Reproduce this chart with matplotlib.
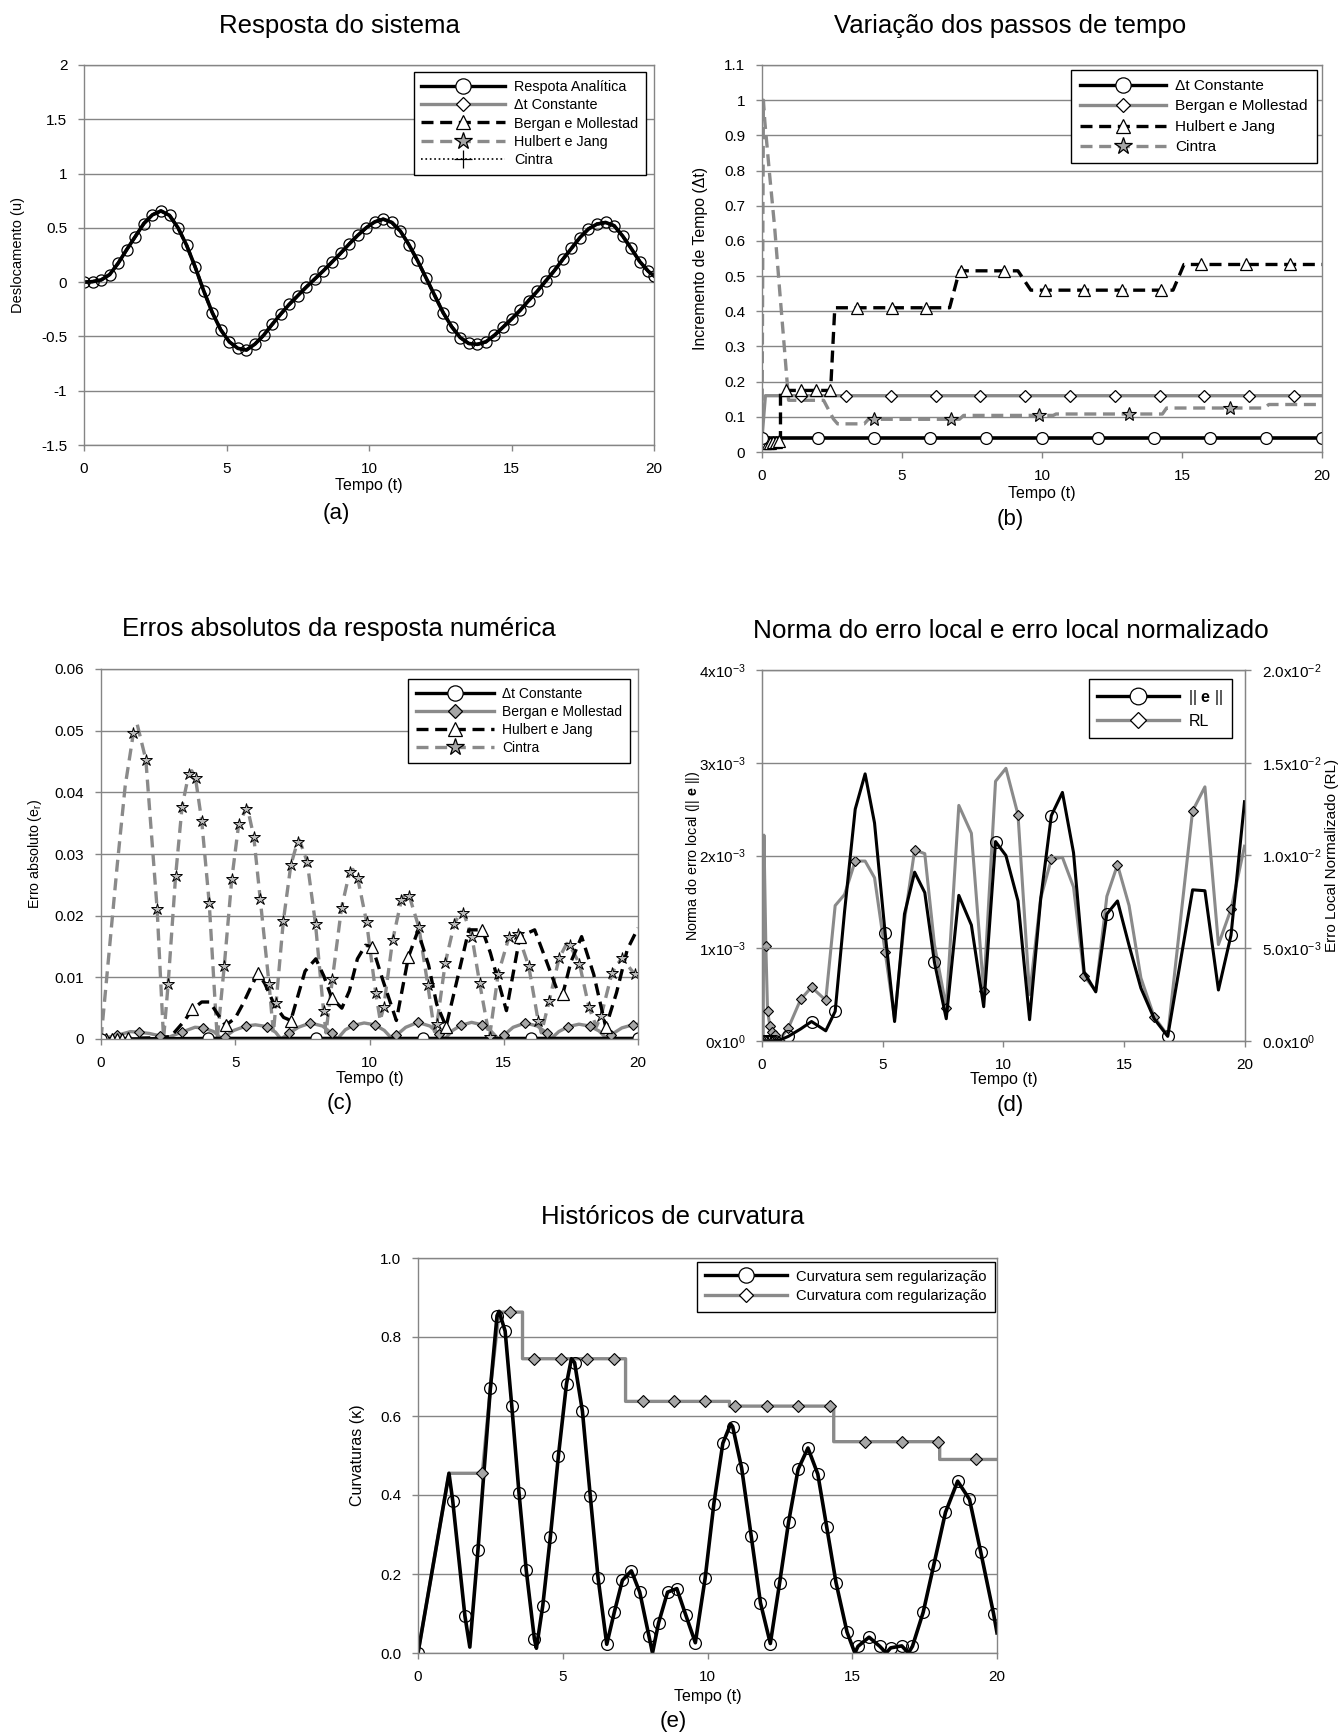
import numpy as np
import matplotlib
matplotlib.use('Agg')
import matplotlib.pyplot as plt
from matplotlib.lines import Line2D

plt.rcParams['font.family'] = ['Liberation Sans', 'DejaVu Sans']
plt.rcParams['mathtext.fontset'] = 'custom'
plt.rcParams['mathtext.rm'] = 'Liberation Sans'
plt.rcParams['mathtext.it'] = 'Liberation Sans:italic'
plt.rcParams['mathtext.bf'] = 'Liberation Sans:bold'
plt.rcParams['axes.unicode_minus'] = False

# ---------------- (a) resposta do sistema ----------------
t_a = [0.0, 0.3, 0.6, 0.9, 1.2, 1.5, 1.8, 2.1, 2.4, 2.7,
       3.0, 3.3, 3.6, 3.9, 4.2, 4.5, 4.8, 5.1, 5.4, 5.7,
       6.0, 6.3, 6.6, 6.9, 7.2, 7.5, 7.8, 8.1, 8.4, 8.7,
       9.0, 9.3, 9.6, 9.9, 10.2, 10.5, 10.8, 11.1, 11.4, 11.7,
       12.0, 12.3, 12.6, 12.9, 13.2, 13.5, 13.8, 14.1, 14.4, 14.7,
       15.0, 15.3, 15.6, 15.9, 16.2, 16.5, 16.8, 17.1, 17.4, 17.7,
       18.0, 18.3, 18.6, 18.9, 19.2, 19.5, 19.8, 20.0]
u_a = [0.0, 0.005, 0.02, 0.07, 0.175, 0.30, 0.42, 0.54, 0.62, 0.656,
       0.615, 0.50, 0.34, 0.14, -0.08, -0.28, -0.44, -0.55, -0.61, -0.625,
       -0.57, -0.49, -0.39, -0.295, -0.205, -0.125, -0.045, 0.03, 0.105, 0.185,
       0.265, 0.35, 0.43, 0.50, 0.555, 0.58, 0.55, 0.47, 0.345, 0.20,
       0.04, -0.12, -0.28, -0.41, -0.51, -0.565, -0.573, -0.55, -0.49, -0.415,
       -0.34, -0.26, -0.17, -0.085, 0.01, 0.105, 0.21, 0.31, 0.41, 0.49,
       0.535, 0.55, 0.52, 0.425, 0.31, 0.19, 0.10, 0.057]

# ---------------- (b) passos de tempo ----------------
ct_b_t = [0, 2, 4, 6, 8, 10, 12, 14, 16, 18, 20]
ct_b_dt = [0.04, 0.04, 0.04, 0.04, 0.04, 0.04, 0.04, 0.04, 0.04, 0.04, 0.04]

bm_b_t = [0.0, 0.12, 20.0]
bm_b_dt = [0.04, 0.16, 0.16]
bm_b_mt = [0.0, 1.4, 3.0, 4.6, 6.2, 7.8, 9.4, 11.0, 12.6, 14.2, 15.8, 17.4, 19.0]
bm_b_mdt = [0.04, 0.16, 0.16, 0.16, 0.16, 0.16, 0.16, 0.16, 0.16, 0.16, 0.16, 0.16, 0.16]

hj_b_t = [0.0, 0.1, 0.2, 0.3, 0.4, 0.5, 0.66, 0.66, 2.45, 2.6, 6.7, 7.05,
          9.14, 9.6, 14.68, 15.07, 20.0]
hj_b_dt = [0.035, 0.025, 0.026, 0.027, 0.028, 0.029, 0.03, 0.175, 0.175, 0.41, 0.41, 0.515,
           0.515, 0.46, 0.46, 0.533, 0.533]
hj_b_mt = [0.1, 0.2, 0.3, 0.4, 0.5, 0.6, 0.87, 1.4, 1.92, 2.42, 3.4, 4.64, 5.87,
           7.09, 8.63, 10.1, 11.5, 12.87, 14.24, 15.69, 17.27, 18.87]
hj_b_mdt = [0.025, 0.026, 0.027, 0.028, 0.029, 0.03, 0.175, 0.175, 0.175, 0.175, 0.41, 0.41, 0.41,
            0.515, 0.515, 0.46, 0.46, 0.46, 0.46, 0.533, 0.533, 0.533]

ci_b_t = [0.0, 0.05, 0.1, 0.27, 0.45, 0.63, 0.81, 0.95, 2.2, 2.55, 2.7, 3.65, 3.8,
          7.05, 7.2, 10.4, 10.5, 14.3, 14.45, 17.95, 18.1, 20.0]
ci_b_dt = [0.04, 1.0, 0.94, 0.79, 0.64, 0.46, 0.285, 0.147, 0.147, 0.094, 0.08, 0.08, 0.093,
           0.093, 0.104, 0.104, 0.108, 0.108, 0.125, 0.125, 0.135, 0.135]
ci_b_mt = [0.0, 4.0, 6.75, 9.9, 13.1, 16.7]
ci_b_mdt = [0.04, 0.093, 0.093, 0.104, 0.108, 0.125]

# ---------------- (c) erros absolutos ----------------
ct_c_t = [0, 4, 8, 12, 16, 20]
ct_c_e = [0.0, 0.0001, 0.0001, 0.0001, 0.0001, 0.0001]

bm_c_mt = [0.0, 0.6, 1.4, 2.2, 3.0, 3.8, 4.6, 5.4, 6.2, 7.0, 7.8, 8.6, 9.4,
           10.2, 11.0, 11.8, 12.6, 13.4, 14.2, 15.0, 15.8, 16.6, 17.4, 18.2, 19.0, 19.8]
bm_c_me = [0.0, 0.0006, 0.0011, 0.0005, 0.0011, 0.0018, 0.0003, 0.0021, 0.002, 0.0009, 0.0026,
           0.0009, 0.0022, 0.0023, 0.0006, 0.0027, 0.0008, 0.0022, 0.0023, 0.0006, 0.0026,
           0.001, 0.002, 0.0021, 0.0007, 0.0023]
bm_c_t = [1.1, 1.8, 2.35, 3.5, 4.2, 4.5, 4.95, 5.75, 6.5, 6.7, 7.35, 8.25, 8.8, 9.1,
          9.8, 10.55, 10.85, 11.35, 12.25, 12.8, 13.1, 13.8, 14.5, 14.8, 15.35, 16.25,
          16.75, 17.05, 17.8, 18.55, 18.85, 19.4, 20.0]
bm_c_e = [0.0012, 0.0009, 0.0, 0.0019, 0.0012, 0.0, 0.0014, 0.0023, 0.0011, 0.0, 0.0019, 0.0021,
          0.0, 0.0015, 0.0026, 0.0014, 0.0, 0.0019, 0.0021, 0.0, 0.0014, 0.0027, 0.0014, 0.0,
          0.0019, 0.0021, 0.0, 0.0012, 0.0024, 0.0013, 0.0, 0.0018, 0.0024]

hj_c_mt = [0.2, 0.4, 0.6, 0.8, 1.0, 3.4, 4.64, 5.85, 7.07, 8.6, 10.1, 11.45, 12.85,
           14.2, 15.6, 17.2, 18.8]
hj_c_me = [0.0, 0.0, 0.0, 0.0, 0.0001, 0.0048, 0.0022, 0.0107, 0.003, 0.0066, 0.015, 0.0133,
           0.002, 0.0177, 0.0166, 0.0073, 0.0019]
hj_c_t = [0.0, 2.0, 2.6, 3.1, 3.75, 4.05, 4.35, 5.0, 5.3, 5.57, 6.1, 6.45, 6.8, 7.3, 7.6,
          8.0, 8.3, 8.97, 9.25, 9.55, 9.85, 10.5, 11.0, 11.8, 12.2, 12.5, 13.15, 13.7,
          14.5, 15.1, 16.15, 16.6, 17.0, 17.5, 17.9, 18.35, 19.2, 19.6, 20.0]
hj_c_e = [0.0, 0.0002, 0.0004, 0.0029, 0.006, 0.006, 0.004, 0.0034, 0.0058, 0.0083, 0.009,
          0.0056, 0.0035, 0.0065, 0.011, 0.013, 0.0102, 0.005, 0.0078, 0.013, 0.0152, 0.0095,
          0.003, 0.0175, 0.012, 0.0057, 0.0075, 0.0177, 0.014, 0.0046, 0.0177, 0.0125, 0.0078,
          0.0125, 0.0166, 0.0105, 0.0075, 0.0145, 0.018]

ci_c_mt = [1.21, 1.67, 2.09, 2.5, 2.78, 3.02, 3.27, 3.52, 3.75, 4.03,
           4.59, 4.87, 5.13, 5.4, 5.69, 5.93, 6.26, 6.52, 6.79, 7.07,
           7.32, 7.68, 7.99, 8.29, 8.62, 8.96, 9.26, 9.56, 9.89, 10.23,
           10.53, 10.86, 11.19, 11.48, 11.84, 12.17, 12.51, 12.82, 13.16, 13.5,
           13.82, 14.1, 14.47, 14.79, 15.2, 15.52, 15.93, 16.28, 16.69, 17.06,
           17.46, 17.82, 18.17, 18.63, 19.03, 19.4, 19.87]
ci_c_me = [0.0497, 0.0453, 0.0211, 0.0089, 0.0265, 0.0377, 0.043, 0.0423, 0.0354, 0.0221,
           0.0118, 0.0259, 0.0349, 0.0373, 0.0328, 0.0227, 0.0089, 0.0058, 0.0191, 0.0282,
           0.032, 0.0287, 0.0186, 0.0045, 0.0098, 0.0213, 0.0271, 0.0261, 0.019, 0.0075,
           0.0052, 0.016, 0.0226, 0.0232, 0.0181, 0.0088, 0.0024, 0.0123, 0.0187, 0.0205,
           0.0165, 0.0091, 0.0003, 0.0105, 0.0166, 0.0171, 0.0118, 0.003, 0.0061, 0.0131,
           0.0152, 0.0122, 0.0052, 0.0038, 0.0107, 0.0132, 0.0105]
ci_c_t = [0.0, 0.3, 0.6, 0.9, 1.35, 2.33, 3.38, 4.33, 5.45, 6.42, 7.4, 8.38, 9.38,
          10.4, 11.35, 12.42, 13.4, 15.4, 16.4, 17.35, 18.45]
ci_c_e = [0.0, 0.014, 0.028, 0.041, 0.051, 0.0, 0.0435, 0.0, 0.0376, 0.001, 0.0322, 0.001,
          0.0275, 0.003, 0.0236, 0.0012, 0.0206, 0.0174, 0.001, 0.0155, 0.002]

# ---------------- (d) norma do erro local e RL ----------------
t_d = [0.0, 0.05, 0.08, 0.16, 0.23, 0.33, 0.43, 0.53, 0.63, 0.74,
       1.09, 1.6, 2.05, 2.64, 3.03, 3.42, 3.86, 4.27, 4.66, 5.1,
       5.49, 5.9, 6.32, 6.74, 7.14, 7.63, 8.15, 8.67, 9.18, 9.67,
       10.1, 10.6, 11.08, 11.54, 11.98, 12.44, 12.9, 13.34, 13.82, 14.28,
       14.72, 15.2, 15.69, 16.24, 16.8, 17.83, 18.34, 18.9, 19.42, 19.98]
norma_e = [0.0, 0.0, 0.0, 0.0, 0.0, 0.0, 0.0, 0.0, 0.0, 0.00001,
           0.00005, 0.00013, 0.00021, 0.00011, 0.00032, 0.0014, 0.0025, 0.00288, 0.00235, 0.00116,
           0.00021, 0.00137, 0.00182, 0.0016, 0.00085, 0.00024, 0.00157, 0.00125, 0.00037, 0.00215,
           0.002, 0.00151, 0.00023, 0.00153, 0.00243, 0.00268, 0.00203, 0.00074, 0.00053, 0.00137,
           0.00151, 0.00103, 0.00057, 0.00024, 0.00005, 0.00163, 0.00162, 0.00055, 0.00114, 0.00258]
rl = [0.0, 0.0, 0.0111, 0.0051, 0.0016, 0.0008, 0.0005, 0.0003, 0.0002, 0.0001,
      0.0007, 0.00224, 0.0029, 0.0022, 0.0073, 0.0079, 0.0097, 0.0097, 0.0088, 0.0048,
      0.0012, 0.0065, 0.0103, 0.0101, 0.0052, 0.0018, 0.0127, 0.0112, 0.0027, 0.014,
      0.0147, 0.0122, 0.0025, 0.0077, 0.0098, 0.0099, 0.0083, 0.0035, 0.0027, 0.0078,
      0.0095, 0.0073, 0.0034, 0.0013, 0.0003, 0.0124, 0.0137, 0.0052, 0.0071, 0.0105]
marca_e = [1, 3, 4, 5, 6, 7, 10, 12, 14, 19, 24, 29, 34, 39, 44, 48]
marca_rl = [3, 4, 5, 6, 7, 10, 11, 12, 13, 16, 19, 22, 25, 28, 31, 34, 37, 40, 43, 45, 48]

# ---------------- (e) curvaturas ----------------
sem_mt = [0, 1.2, 1.62, 2.07, 2.5, 2.73, 3.01, 3.24, 3.49, 3.74,
          4.02, 4.31, 4.57, 4.85, 5.13, 5.41, 5.68, 5.95, 6.22, 6.52,
          6.78, 7.06, 7.37, 7.66, 7.98, 8.31, 8.62, 8.94, 9.25, 9.58,
          9.92, 10.22, 10.53, 10.87, 11.18, 11.51, 11.83, 12.17, 12.49, 12.8,
          13.13, 13.47, 13.81, 14.12, 14.44, 14.82, 15.2, 15.58, 15.95, 16.33,
          16.71, 17.08, 17.45, 17.82, 18.22, 18.64, 19.05, 19.44, 19.88]
sem_mk = [0, 0.385, 0.094, 0.26, 0.67, 0.854, 0.815, 0.625, 0.404, 0.209,
          0.036, 0.12, 0.293, 0.499, 0.682, 0.735, 0.612, 0.398, 0.19, 0.022,
          0.103, 0.184, 0.208, 0.154, 0.042, 0.076, 0.154, 0.163, 0.096, 0.026,
          0.19, 0.378, 0.531, 0.573, 0.468, 0.296, 0.127, 0.024, 0.177, 0.331,
          0.465, 0.519, 0.453, 0.318, 0.178, 0.053, 0.017, 0.04, 0.017, 0.013,
          0.018, 0.017, 0.103, 0.224, 0.356, 0.435, 0.389, 0.255, 0.1]
sem_pt = [1.07, 1.79, 2.8, 4.09, 5.3, 8.1, 10.8, 15.09, 16.17, 16.94, 20.0]
sem_pk = [0.455, 0.015, 0.865, 0.012, 0.745, 0.0, 0.58, 0.0, 0.0, 0.0, 0.051]

com_t = [0, 1.07, 2.22, 2.5, 2.8, 3.61, 3.61, 7.17, 7.17, 10.76, 10.76, 14.36, 14.36,
         18.02, 18.02, 20.0]
com_k = [0, 0.455, 0.455, 0.67, 0.863, 0.863, 0.745, 0.745, 0.637, 0.637, 0.625, 0.625,
         0.535, 0.535, 0.49, 0.49]
com_mt = [2.22, 3.17, 4.02, 4.93, 5.85, 6.76, 7.78, 8.83, 9.91, 10.96, 12.05, 13.13,
          14.24, 15.44, 16.71, 17.95, 19.29]
com_mk = [0.455, 0.863, 0.745, 0.745, 0.745, 0.745, 0.637, 0.637, 0.637, 0.625, 0.625,
          0.625, 0.625, 0.535, 0.535, 0.535, 0.49]

# ---------------- eixos ----------------
ticks_x = [0, 5, 10, 15, 20]
ticks_a = [-1.5, -1, -0.5, 0, 0.5, 1, 1.5, 2]
rot_a = ['-1.5', '-1', '-0.5', '0', '0.5', '1', '1.5', '2']
ticks_b = [0, 0.1, 0.2, 0.3, 0.4, 0.5, 0.6, 0.7, 0.8, 0.9, 1.0, 1.1]
rot_b = ['0', '0.1', '0.2', '0.3', '0.4', '0.5', '0.6', '0.7', '0.8', '0.9', '1', '1.1']
ticks_c = [0, 0.01, 0.02, 0.03, 0.04, 0.05, 0.06]
rot_c = ['0', '0.01', '0.02', '0.03', '0.04', '0.05', '0.06']
ticks_d = [0, 0.001, 0.002, 0.003, 0.004]
rot_d = ['0x10$^{0}$', '1x10$^{-3}$', '2x10$^{-3}$', '3x10$^{-3}$', '4x10$^{-3}$']
ticks_d2 = [0, 0.005, 0.01, 0.015, 0.02]
rot_d2 = ['0.0x10$^{0}$', '5.0x10$^{-3}$', '1.0x10$^{-2}$', '1.5x10$^{-2}$', '2.0x10$^{-2}$']
ticks_e = [0, 0.2, 0.4, 0.6, 0.8, 1.0]
rot_e = ['0.0', '0.2', '0.4', '0.6', '0.8', '1.0']

CINZA = '#8a8a8a'
GRADE = '#858585'
PREENCH = '#a6a6a6'
ESTRELA = '#bdbdbd'
TRACO = (0, (3.6, 2.0))

W, H = 1338, 1735
fig = plt.figure(figsize=(W / 100, H / 100), dpi=100)


def eixo(x0, y0, x1, y1):
    # posição em pixels: esquerda, topo, direita, base
    return fig.add_axes([x0 / W, 1 - y1 / H, (x1 - x0) / W, (y1 - y0) / H])


def formata(ax, ticks, rotulos, lim, ylab, ylab_x, xlab_y, ylab_fs=10):
    ax.set_xlim(0, 20)
    ax.set_ylim(*lim)
    ax.set_xticks(ticks_x)
    ax.set_yticks(ticks)
    ax.set_yticklabels(rotulos)
    ax.grid(axis='y', color=GRADE, lw=1)
    ax.set_axisbelow(True)
    for s in ax.spines.values():
        s.set_color(GRADE)
        s.set_linewidth(1)
    ax.tick_params(axis='both', direction='out', length=4, width=1, color=GRADE, labelsize=11)
    ax.tick_params(axis='x', pad=8)
    ax.tick_params(axis='y', pad=8)
    ax.set_xlabel('Tempo (t)', fontsize=11.5)
    ax.xaxis.set_label_coords(0.5, xlab_y)
    ax.xaxis.label.set_va('center')
    ax.set_ylabel(ylab, fontsize=ylab_fs)
    ax.yaxis.set_label_coords(ylab_x, 0.5)
    ax.yaxis.label.set_va('center')


def texto(x, y, s, fs):
    fig.text(x / W, 1 - y / H, s, ha='center', va='center', fontsize=fs)


def legenda(ax, itens, rotulos, xr, yt, fs, esp, hl):
    leg = ax.legend(itens, rotulos, loc='upper right', bbox_to_anchor=(xr / W, 1 - yt / H),
                    bbox_transform=fig.transFigure, fontsize=fs, frameon=True,
                    fancybox=False, edgecolor='black', framealpha=1, borderaxespad=0,
                    handlelength=hl, handletextpad=0.6, labelspacing=esp, borderpad=0.55,
                    numpoints=1)
    leg.get_frame().set_linewidth(1.0)
    return leg


def juntar(t1, v1, t2, v2):
    t = np.concatenate([t1, t2])
    v = np.concatenate([v1, v2])
    ordem = np.argsort(t, kind='stable')
    return t[ordem], v[ordem]


def item(cor, ls, mk, ms, mfc, lw=2.4):
    return Line2D([], [], color=cor, ls=ls, lw=lw, marker=mk, ms=ms, mfc=mfc,
                  mec='black', mew=0.9)


# ---------------- (a) ----------------
ax = eixo(84, 65, 654, 445)
ax.plot(t_a, u_a, color=CINZA, lw=2.2)
ax.plot(t_a, u_a, color='black', lw=2.2, ls=TRACO)
ax.plot(t_a, u_a, color=CINZA, lw=2.2, ls=TRACO)
ax.plot(t_a, u_a, color='black', lw=1, ls=':')
ax.plot(t_a, u_a, color='black', lw=2.6, marker='o', ms=8, mfc='none', mec='black', mew=0.9)
formata(ax, ticks_a, rot_a, (-1.5, 2), 'Deslocamento (u)', -0.116, -0.107, 10.5)
legenda(ax,
        [item('black', '-', 'o', 11, 'white'), item(CINZA, '-', 'D', 7.5, 'white'),
         item('black', TRACO, '^', 10, 'white'), item(CINZA, TRACO, '*', 13, PREENCH),
         item('black', ':', '+', 13, 'none', lw=1.2)],
        ['Respota Analítica', 'Δt Constante', 'Bergan e Mollestad', 'Hulbert e Jang', 'Cintra'],
        646, 72.5, 10.4, 0.28, 5.8)
texto(339, 25.5, 'Resposta do sistema', 18.5)
texto(336, 514, '(a)', 16)

# ---------------- (b) ----------------
ax = eixo(762, 65, 1322, 452)
ax.plot(ci_b_t, ci_b_dt, color=CINZA, lw=2.4, ls=TRACO)
ax.plot(bm_b_t, bm_b_dt, color=CINZA, lw=2.4)
ax.plot(hj_b_t, hj_b_dt, color='black', lw=2.4, ls=TRACO)
ax.plot(ct_b_t, ct_b_dt, color='black', lw=2.6)
ax.plot(bm_b_mt, bm_b_mdt, ls='none', marker='D', ms=6.5, mfc='white', mec='black', mew=0.9)
ax.plot(hj_b_mt, hj_b_mdt, ls='none', marker='^', ms=8.5, mfc='white', mec='black', mew=0.9)
ax.plot(ci_b_mt, ci_b_mdt, ls='none', marker='*', ms=10, mfc=PREENCH, mec='black', mew=0.8)
ax.plot(ct_b_t, ct_b_dt, ls='none', marker='o', ms=8.5, mfc='white', mec='black', mew=0.9)
formata(ax, ticks_b, rot_b, (0, 1.1), 'Incremento de Tempo (Δt)', -0.109, -0.1085, 11.4)
legenda(ax,
        [item('black', '-', 'o', 11, 'white'), item(CINZA, '-', 'D', 7.5, 'white'),
         item('black', TRACO, '^', 10, 'white'), item(CINZA, TRACO, '*', 13, PREENCH)],
        ['Δt Constante', 'Bergan e Mollestad', 'Hulbert e Jang', 'Cintra'],
        1316.6, 70.5, 11.1, 0.42, 5.6)
texto(1010, 25.5, 'Variação dos passos de tempo', 18.5)
texto(1010, 519, '(b)', 16)

# ---------------- (c) ----------------
ax = eixo(101, 669, 638, 1039)
t, v = juntar(bm_c_t, bm_c_e, bm_c_mt, bm_c_me)
ax.plot(t, v, color=CINZA, lw=2.4)
t, v = juntar(ci_c_t, ci_c_e, ci_c_mt, ci_c_me)
ax.plot(t, v, color=CINZA, lw=2.4, ls=TRACO)
t, v = juntar(hj_c_t, hj_c_e, hj_c_mt, hj_c_me)
ax.plot(t, v, color='black', lw=2.4, ls=TRACO)
ax.plot(ct_c_t, ct_c_e, color='black', lw=2.4)
ax.plot(bm_c_mt, bm_c_me, ls='none', marker='D', ms=5.5, mfc=PREENCH, mec='black', mew=0.8)
ax.plot(ci_c_mt, ci_c_me, ls='none', marker='*', ms=9, mfc=ESTRELA, mec='black', mew=0.7)
ax.plot(hj_c_mt, hj_c_me, ls='none', marker='^', ms=9, mfc='white', mec='black', mew=0.9)
ax.plot(ct_c_t, ct_c_e, ls='none', marker='o', ms=8, mfc='white', mec='black', mew=0.9)
formata(ax, ticks_c, rot_c, (0, 0.06), 'Erro absoluto (e$_{\\mathrm{r}}$)', -0.123, -0.107, 10.2)
legenda(ax,
        [item('black', '-', 'o', 11, 'white'), item(CINZA, '-', 'D', 7.5, PREENCH),
         item('black', TRACO, '^', 10, 'white'), item(CINZA, TRACO, '*', 13, PREENCH)],
        ['Δt Constante', 'Bergan e Mollestad', 'Hulbert e Jang', 'Cintra'],
        629.6, 679, 10, 0.3, 5.6)
texto(339, 629, 'Erros absolutos da resposta numérica', 18.5)
texto(340, 1103, '(c)', 16)

# ---------------- (d) ----------------
ax = eixo(762, 670, 1245, 1041)
ax2 = ax.twinx()
ax.set_zorder(ax2.get_zorder() + 1)
ax.patch.set_visible(False)
ax2.plot(t_d, rl, color=CINZA, lw=2.2, marker='D', ms=5.5, mfc=PREENCH, mec='black',
         mew=0.8, markevery=marca_rl)
ax.plot(t_d, norma_e, color='black', lw=2.2, marker='o', ms=8.5, mfc='none', mec='black',
        mew=0.9, markevery=marca_e)
formata(ax, ticks_d, rot_d, (0, 0.004), 'Norma do erro local (|| $\\mathbf{e}$ ||)',
        -0.143, -0.105, 10.3)
ax2.set_ylim(0, 0.02)
ax2.set_yticks(ticks_d2)
ax2.set_yticklabels(rot_d2)
for s in ax2.spines.values():
    s.set_color(GRADE)
ax2.tick_params(axis='y', direction='out', length=4, width=1, color=GRADE, labelsize=11, pad=8)
ax2.set_ylabel('Erro Local Normalizado (RL)', fontsize=11)
ax2.yaxis.set_label_coords(1.18, 0.5)
ax2.yaxis.label.set_va('center')
legenda(ax,
        [item('black', '-', 'o', 12, 'white'), item(CINZA, '-', 'D', 8, 'white')],
        ['|| $\\mathbf{e}$ ||', 'RL'],
        1232, 679, 11.5, 0.45, 5.1)
texto(1011, 631, 'Norma do erro local e erro local normalizado', 18.8)
texto(1010, 1105, '(d)', 16)

# ---------------- (e) ----------------
ax = eixo(418, 1258, 997, 1653)
ax.plot(com_t, com_k, color=CINZA, lw=2.4)
t, v = juntar(sem_pt, sem_pk, sem_mt, sem_mk)
ax.plot(t, v, color='black', lw=2.6)
ax.plot(sem_mt, sem_mk, ls='none', marker='o', ms=8.5, mfc='none', mec='black', mew=0.9)
ax.plot(com_mt, com_mk, ls='none', marker='D', ms=6, mfc=PREENCH, mec='black', mew=0.8)
formata(ax, ticks_e, rot_e, (0, 1.0), 'Curvaturas (κ)', -0.105, -0.111, 11.5)
legenda(ax,
        [item('black', '-', 'o', 11, 'white'), item(CINZA, '-', 'D', 7.5, 'white')],
        ['Curvatura sem regularização', 'Curvatura com regularização'],
        994.7, 1261.5, 10.6, 0.4, 5.6)
texto(673, 1216.6, 'Históricos de curvatura', 18.5)
texto(673, 1721.7, '(e)', 16)

fig.savefig('out.png', dpi=100, facecolor='white')
